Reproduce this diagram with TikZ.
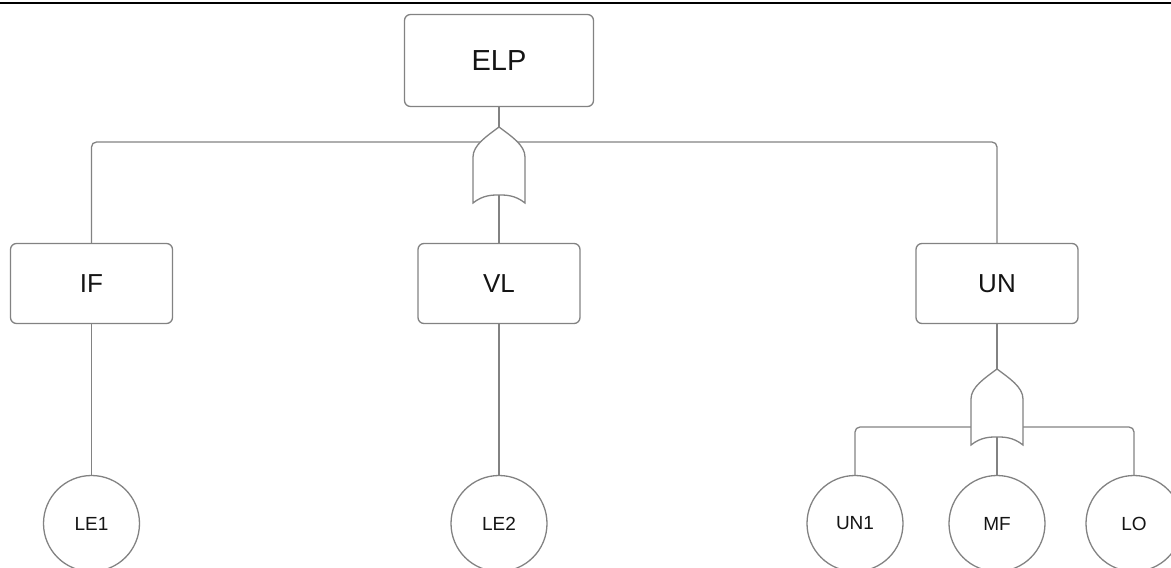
\documentclass[tikz,border=0pt]{standalone}
\usepackage{fontspec}
\setmainfont{Liberation Sans}
\definecolor{edgegray}{RGB}{130, 130, 130}
\definecolor{inkblack}{RGB}{20, 20, 20}

\begin{document}
\begin{tikzpicture}[
        x=1pt, y=-1pt,
        event/.style={
            draw=edgegray,
            line width=1.3pt,
            rounded corners=6pt,
            minimum width=162pt,
            minimum height=80pt,
            text=inkblack,
            font=\fontsize{26}{30}\selectfont
        },
        topevent/.style={
            event,
            minimum width=189pt,
            minimum height=92pt,
            font=\fontsize{29}{33}\selectfont
        },
        basic/.style={
            circle,
            draw=edgegray,
            line width=1.3pt,
            minimum size=96pt,
            inner sep=0pt,
            text=inkblack,
            font=\fontsize{19}{22}\selectfont
        },
        link/.style={
            draw=edgegray,
            line width=1.3pt,
            rounded corners=5pt
        },
        orgate/.pic={
            \draw[draw=edgegray, line width=1.3pt, fill=white]
                (0,0) .. controls (12,9) and (26,18) .. (26,30)
                -- (26,76) .. controls (16,68) and (7,68) .. (0,68)
                .. controls (-7,68) and (-16,68) .. (-26,76)
                -- (-26,30) .. controls (-26,18) and (-12,9) .. (0,0) -- cycle;
            \coordinate (-tip) at (0,0);
            \coordinate (-out) at (0,68);
        }
    ]
    \useasboundingbox (0,0) rectangle (1171,568);
    \draw[black, line width=2pt] (0,3) -- (1171,3);

    \node[topevent] (elp) at (499,60.5) {ELP};
    \node[event] (if) at (91.5,283.5) {IF};
    \node[event] (vl) at (499,283.5) {VL};
    \node[event] (un) at (997,283.5) {UN};

    \node[basic] (le1) at (91.5,523.5) {LE1};
    \node[basic] (le2) at (499,523.5) {LE2};
    \node[basic] (un1) at (855,523.5) {UN1};
    \node[basic] (mf) at (997,523.5) {MF};
    \node[basic] (lo) at (1134,523.5) {LO};

    \coordinate (bustop) at (499,142);
    \coordinate (busun) at (997,427);

    \draw[link] (if.north) |- (bustop) -| (un.north);
    \draw[link] (un1.north) |- (busun) -| (lo.north);
    \draw[link] (if.south) -- (le1.north);
    \draw[link] (vl.south) -- (le2.north);

    \pic (gtop) at (499,127) {orgate};
    \pic (gun) at (997,369) {orgate};

    \draw[link] (elp.south) -- (gtop-tip);
    \draw[link] (gtop-out) -- (vl.north);
    \draw[link] (un.south) -- (gun-tip);
    \draw[link] (gun-out) -- (mf.north);
\end{tikzpicture}
\end{document}
